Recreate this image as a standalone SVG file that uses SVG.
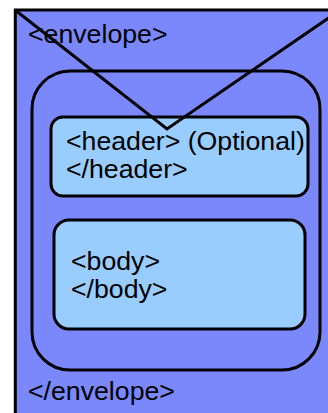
<svg xmlns="http://www.w3.org/2000/svg" width="328" height="413" viewBox="0 0 328 413">
<style>
.box{stroke:#000;stroke-width:3}
.inner{fill:#99ccff;stroke:#000;stroke-width:3}
.t{font-family:"Liberation Sans",Arial,sans-serif;font-size:26.7px;fill:#000}
.flap{stroke:#000;stroke-width:3;fill:none}
</style>
<rect width="328" height="413" fill="#fff"/>
<g id="envelope">
<rect class="box" x="15.3" y="10" width="330" height="420" fill="#7a88fc"/>
<text class="t" x="28" y="43">&lt;envelope&gt;</text>
<text class="t" x="28" y="400">&lt;/envelope&gt;</text>
</g>
<g id="container">
<rect class="box" x="32" y="71" width="288" height="299" rx="38" ry="38" fill="none"/>
</g>
<g id="header">
<rect class="inner" x="51" y="117" width="257" height="79" rx="12" ry="12"/>
<text class="t" x="66" y="150">&lt;header&gt; (Optional)</text>
<text class="t" x="66" y="178">&lt;/header&gt;</text>
</g>
<g id="body">
<rect class="inner" x="54" y="220" width="251" height="109" rx="15" ry="15"/>
<text class="t" x="71" y="270">&lt;body&gt;</text>
<text class="t" x="71" y="298">&lt;/body&gt;</text>
</g>
<g id="connectors">
<polyline class="flap" points="15,10 167,129 330,17"/>
</g>
</svg>
